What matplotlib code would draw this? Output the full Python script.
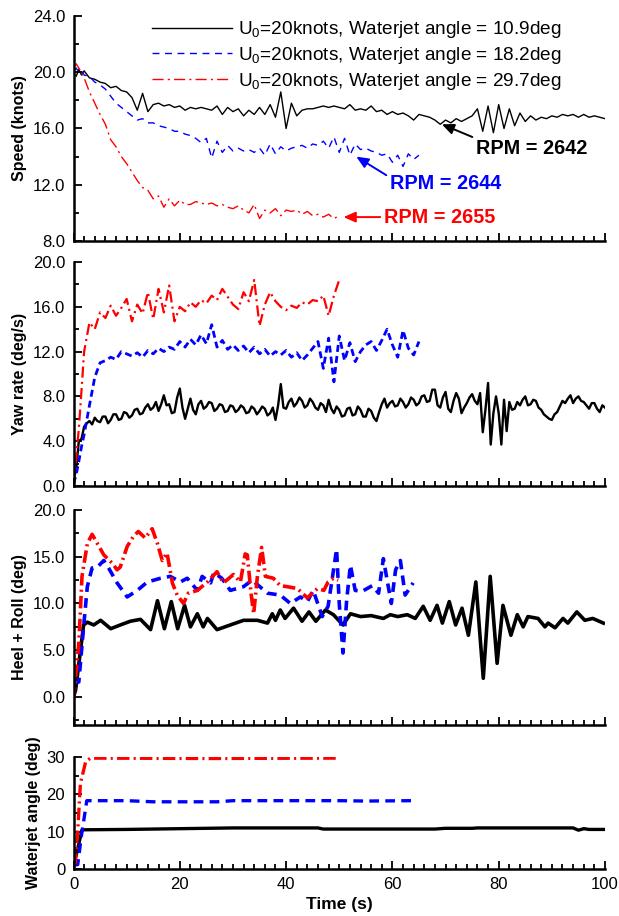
import matplotlib
matplotlib.use("Agg")
import matplotlib.pyplot as plt
from matplotlib.ticker import MultipleLocator, FormatStrFormatter

plt.rcParams['font.family'] = ['Liberation Sans', 'DejaVu Sans']
plt.rcParams['mathtext.fontset'] = 'custom'
plt.rcParams['mathtext.rm'] = 'Liberation Sans'
plt.rcParams['lines.scale_dashes'] = False

# ---- time grids (s) ----
t_black = [0, 0.5, 1, 1.5] + list(range(2, 101))
t_blue = [0, 0.5, 1, 1.5] + list(range(2, 66))
t_red = [0, 0.5, 1, 1.5] + list(range(2, 51))
t_yaw_black = [0, 0.5, 1, 1.5] + [2 + 0.5 * i for i in range(197)]

labels = ['U$_\\mathregular{0}$=20knots, Waterjet angle = 10.9deg',
          'U$_\\mathregular{0}$=20knots, Waterjet angle = 18.2deg',
          'U$_\\mathregular{0}$=20knots, Waterjet angle = 29.7deg']
rpm_text = ['RPM = 2642', 'RPM = 2644', 'RPM = 2655']

# ---- speed (knots) ----
speed_black = [20.0, 19.7, 20.2, 19.8,
               20.1, 19.6, 19.5, 19.3, 19.2, 18.9, 19.0, 18.7,
               18.6, 18.2, 17.3, 18.5, 17.2, 17.7, 17.8, 17.6, 17.7, 17.5,
               17.6, 17.3, 17.5, 17.4, 17.5, 17.4, 17.3, 17.6, 17.0, 17.5,
               17.2, 17.4, 16.9, 17.3, 17.0, 17.5, 17.0, 17.7, 16.8, 18.6,
               16.0, 17.8, 16.9, 17.3, 17.4, 17.4, 17.5, 17.6, 17.5, 17.6,
               17.5, 17.4, 17.7, 17.3, 17.4, 17.3, 17.6, 17.2, 17.3, 17.0,
               17.2, 17.0, 17.1, 16.9, 16.6, 17.0, 16.9, 16.8, 16.6, 16.3,
               16.6, 16.4, 16.7, 16.5, 16.7, 16.9, 17.4, 15.8, 17.6, 15.7,
               17.7, 16.0, 17.4, 16.2, 17.1, 16.5, 16.9, 16.6, 16.8, 16.7,
               16.9, 16.8, 17.0, 16.9, 17.0, 16.8, 17.0, 16.8, 16.9, 16.8,
               16.7]
speed_blue = [20.1, 20.3, 20.0, 20.1,
              19.8, 19.7, 19.3, 19.1, 18.8, 18.3, 17.8, 17.5,
              17.2, 16.9, 16.6, 16.7, 16.4, 16.4, 16.2, 16.1, 16.0, 15.8,
              15.8, 15.6, 15.5, 15.3, 15.0, 15.3, 13.9, 15.1, 14.3, 14.8,
              14.4, 14.6, 14.4, 14.5, 14.3, 14.6, 14.1, 14.9, 14.2, 14.7,
              14.4, 14.6, 14.7, 14.8, 14.6, 14.9, 14.8, 15.1, 14.6, 15.4,
              14.3, 15.3, 14.1, 14.9, 14.5, 14.6, 14.4, 14.3, 14.1, 14.2,
              13.6, 14.1, 13.3, 14.2, 13.8, 14.1]
speed_red = [20.4, 20.6, 20.3, 20.0,
             19.6, 18.6, 17.8, 17.0, 16.3, 15.2, 14.7, 14.0,
             13.5, 12.9, 12.3, 11.8, 11.6, 11.0, 11.2, 10.4, 11.0, 10.5,
             10.9, 10.6, 10.6, 10.8, 10.7, 10.6, 10.7, 10.5, 10.6, 10.4,
             10.3, 10.5, 10.2, 10.0, 10.6, 9.6, 10.2, 10.0, 10.3, 9.8,
             10.2, 10.1, 10.2, 9.9, 10.1, 9.8, 9.9, 9.7, 9.9, 9.6,
             9.8]

# ---- yaw rate (deg/s) ----
yaw_black = [0.5, 1.5, 4.0, 4.2,
             5.3, 5.6, 5.8, 5.5, 6.1, 5.8, 5.7, 6.2, 6.2, 5.6,
             5.9, 6.4, 6.4, 5.9, 6.0, 6.6, 6.5, 6.1, 6.3, 6.8,
             6.9, 6.4, 6.5, 7.0, 7.3, 6.8, 7.0, 7.5, 6.7, 7.3,
             8.1, 7.2, 7.3, 6.5, 6.6, 7.9, 8.7, 7.0, 6.0, 6.9,
             7.8, 6.8, 6.4, 7.3, 7.6, 6.9, 7.1, 7.5, 7.4, 6.7,
             6.9, 7.3, 7.2, 6.6, 6.7, 7.2, 7.1, 6.6, 6.8, 7.2,
             7.0, 6.5, 6.6, 7.1, 6.9, 6.4, 6.7, 7.1, 6.9, 6.3,
             6.5, 7.0, 5.9, 7.2, 9.1, 7.0, 6.9, 7.5, 7.8, 7.1,
             7.4, 7.9, 7.6, 7.0, 7.2, 7.8, 7.5, 7.0, 6.8, 7.4,
             7.2, 6.6, 7.7, 6.9, 6.5, 7.1, 6.8, 6.2, 6.3, 6.9,
             7.0, 6.3, 6.4, 7.1, 6.8, 6.2, 6.2, 6.9, 6.7, 6.1,
             5.8, 6.6, 7.3, 7.8, 7.0, 7.4, 7.6, 7.1, 7.2, 7.8,
             7.5, 7.0, 7.3, 7.9, 7.7, 7.2, 7.4, 8.0, 8.1, 7.5,
             7.6, 8.6, 8.6, 7.2, 7.0, 7.9, 8.4, 6.9, 6.6, 7.6,
             8.3, 7.8, 6.5, 7.0, 7.4, 7.9, 8.2, 7.6, 7.3, 8.3,
             4.8, 6.8, 9.2, 3.7, 6.5, 8.0, 6.5, 3.7, 7.7, 4.9,
             7.5, 6.8, 6.9, 7.5, 7.2, 7.7, 8.0, 7.2, 7.3, 7.7,
             7.6, 7.0, 6.8, 6.4, 6.2, 6.0, 5.9, 6.4, 6.6, 7.1,
             7.6, 7.4, 7.8, 8.1, 7.4, 7.8, 8.0, 7.6, 7.5, 7.2,
             6.9, 7.4, 7.4, 6.9, 6.6, 7.2, 7.0]
yaw_blue = [0.2, 1.0, 2.2, 3.5,
            4.6, 7.2, 9.7, 11.0, 11.2, 11.5, 11.3, 12.0,
            11.8, 11.6, 11.9, 11.5, 12.1, 11.8, 12.3, 12.0, 12.4, 12.2,
            12.9, 12.4, 13.1, 12.6, 13.5, 12.7, 14.4, 12.4, 13.0, 12.2,
            12.6, 12.1, 12.5, 11.9, 12.4, 11.8, 12.2, 11.6, 12.0, 11.7,
            12.1, 11.5, 11.9, 11.2, 11.7, 12.3, 12.9, 10.5, 13.2, 9.3,
            13.4, 11.2, 12.8, 11.1, 12.0, 12.6, 12.9, 12.1, 13.0, 14.0,
            12.6, 11.5, 13.9, 12.3, 11.7, 12.9]
yaw_red = [0.1, 2.5, 5.1, 8.5,
           12.0, 14.6, 14.0, 15.5, 15.0, 16.1, 15.2, 15.9,
           16.7, 14.7, 16.2, 15.4, 17.3, 14.9, 17.6, 15.5, 17.9, 14.7,
           16.0, 15.6, 16.4, 16.0, 16.6, 16.3, 17.0, 16.6, 17.6, 16.9,
           16.2, 15.8, 17.3, 16.5, 18.4, 14.3, 16.2, 17.3, 16.5, 16.0,
           15.7, 16.1, 15.9, 16.4, 16.2, 16.6, 16.5, 17.0, 15.2, 17.0,
           18.4]

# ---- heel + roll (deg) ----
heel_t_black = [0, 0.4, 1.9, 2.6, 3.8, 5.1, 7.0, 8.8, 10.7, 12.6, 14.5, 15.8,
                17.1, 18.4, 19.6, 20.9, 22.0, 23.3, 24.4, 25.2, 27.0, 29.5,
                32.0, 34.6, 36.5, 37.4, 38.0, 38.9, 39.8, 41.4, 43.0, 44.3,
                45.6, 47.4, 48.9, 50.7, 52.1, 54.0, 56.0, 58.3, 59.6, 61.0,
                62.8, 64.3, 65.8, 67.1, 68.4, 69.4, 70.7, 71.9, 73.1, 74.3,
                75.7, 77.1, 78.4, 79.7, 80.8, 82.3, 83.5, 84.6, 85.5, 87.4,
                88.7, 89.3, 90.6, 92.1, 93.0, 94.7, 96.2, 97.7, 99.7]
heel_black = [0.0, 0.75, 7.7, 8.0, 7.7, 8.2, 7.3, 7.7, 8.1, 8.3, 7.2, 10.3,
              7.3, 10.2, 7.3, 9.8, 7.5, 8.9, 7.5, 8.4, 7.2, 7.7,
              8.2, 8.2, 7.9, 8.9, 8.2, 9.3, 8.4, 9.5, 8.1, 9.1,
              8.1, 9.3, 8.8, 7.7, 8.9, 8.6, 8.7, 8.4, 8.8, 8.6,
              8.8, 8.4, 9.7, 8.2, 9.8, 7.9, 10.2, 7.7, 9.5, 6.6,
              12.3, 2.0, 12.9, 3.6, 9.8, 6.6, 8.8, 7.5, 8.6, 8.4,
              7.5, 7.9, 7.4, 8.4, 7.9, 9.1, 8.2, 8.4, 7.9]
heel_t_blue = [0, 1.0, 1.9, 2.6, 3.5, 4.5, 5.7, 6.6, 8.2, 10.1, 12.0, 13.9,
               16.4, 18.2, 20.1, 21.4, 23.3, 24.2, 25.8, 26.4, 27.9, 29.5,
               32.0, 33.6, 36.5, 38.9, 40.8, 42.7, 44.0, 45.1, 46.8, 47.9,
               49.5, 50.0, 50.7, 51.4, 52.1, 53.0, 54.3, 56.2, 57.4, 58.3,
               59.1, 59.8, 60.6, 61.5, 62.4, 63.9]
heel_blue = [1.5, 1.6, 7.5, 11.8, 13.8, 13.9, 14.6, 13.8, 12.2, 10.7, 11.4, 12.3,
             12.7, 12.9, 12.3, 12.7, 11.4, 12.9, 12.2, 13.3, 12.7, 11.4,
             11.8, 12.5, 11.1, 10.9, 10.0, 10.7, 10.2, 11.4, 8.6, 9.7,
             15.8, 10.0, 4.7, 10.4, 14.1, 11.4, 11.3, 11.9, 11.1, 14.8,
             12.2, 10.0, 13.6, 14.6, 10.9, 12.2]
heel_t_red = [0, 1.0, 1.6, 2.6, 3.5, 4.5, 5.7, 7.3, 8.2, 8.8, 10.1, 11.3,
              12.2, 13.5, 14.8, 15.8, 16.7, 17.6, 18.6, 19.5, 20.7, 21.6,
              23.3, 25.2, 27.0, 28.2, 30.1, 31.4, 32.3, 32.7, 33.4, 33.9,
              34.6, 35.4, 36.1, 37.6, 38.9, 40.2, 42.1, 44.0, 45.9, 47.1,
              47.9, 48.9, 49.8]
heel_red = [-0.3, 5.7, 12.9, 16.4, 17.4, 16.4, 15.2, 14.3, 13.6, 13.9, 16.1, 17.2,
            17.7, 17.0, 18.0, 16.4, 14.6, 15.4, 12.2, 10.9, 10.0, 11.1,
            11.4, 12.3, 13.4, 12.2, 13.1, 12.3, 15.3, 15.2, 11.1, 8.9,
            12.9, 16.0, 12.9, 12.7, 11.9, 11.8, 11.6, 10.6, 11.6, 11.4,
            12.3, 12.7, 12.5]

# ---- waterjet angle (deg) ----
jet_t_black = [0, 0.4, 1.6, 10, 20, 30, 40, 46, 47, 60, 68, 70, 75, 76, 94, 95, 96, 97, 100]
jet_black = [0.5, 3.0, 10.5, 10.6, 10.8, 11.0, 11.0, 11.0, 10.7, 10.7, 10.7, 10.9,
             10.9, 11.0, 11.0, 10.4, 10.8, 10.6, 10.6]
jet_t_blue = [0, 0.8, 1.5, 2.5, 10, 15, 27, 30, 50, 55, 63.5]
jet_blue = [1.0, 1.2, 9.0, 18.3, 18.3, 18.0, 18.0, 18.3, 18.3, 18.2, 18.3]
jet_t_red = [0, 0.3, 0.8, 1.3, 2.3, 3.2, 25, 50]
jet_red = [1.0, 1.5, 10.3, 22.9, 28.8, 29.7, 29.6, 29.7]

BLUE = '#0000FF'
RED = '#FF0000'

fig = plt.figure(figsize=(6.19, 9.16), dpi=100)
L, W = 73.5 / 619, 531.5 / 619
tops = [16, 262, 510, 757]
bots = [241, 486, 725, 869]
axes = []
for top, bot in zip(tops, bots):
    ax = fig.add_axes([L, 1 - bot / 916, W, (bot - top) / 916])
    axes.append(ax)

ax1, ax2, ax3, ax4 = axes

# speed
l1, = ax1.plot(t_black, speed_black, color='black', lw=1.0)
l2, = ax1.plot(t_blue, speed_blue, color=BLUE, lw=1.0, ls=(0, (5, 4)))
l3, = ax1.plot(t_red, speed_red, color=RED, lw=1.0, ls=(0, (8, 3, 1.5, 3)))
ax1.set_ylim(8, 24)
ax1.yaxis.set_major_locator(MultipleLocator(4))
ax1.yaxis.set_minor_locator(MultipleLocator(2))
ax1.set_ylabel('Speed (knots)')
ax1.legend([l1, l2, l3], labels, loc='upper left', bbox_to_anchor=(0.148, 0.985),
           frameon=False, fontsize=13.7, handlelength=4.2, handletextpad=0.3,
           labelspacing=0.25, borderpad=0, borderaxespad=0)

# RPM arrows
ax1.annotate(rpm_text[0], xy=(69.3, 16.3), xytext=(75.8, 14.6), color='black',
             fontsize=14.3, fontweight='bold', ha='left', va='center',
             arrowprops=dict(arrowstyle='-|>,head_length=0.5,head_width=0.22', color='black',
                             lw=1.4, relpos=(0, 1), shrinkA=1, shrinkB=0))
ax1.annotate(rpm_text[1], xy=(53.2, 14.0), xytext=(59.6, 12.1), color=BLUE,
             fontsize=14.3, fontweight='bold', ha='left', va='center',
             arrowprops=dict(arrowstyle='-|>,head_length=0.5,head_width=0.22', color=BLUE,
                             lw=1.4, relpos=(0, 0.8), shrinkA=1, shrinkB=0))
ax1.annotate(rpm_text[2], xy=(50.8, 9.7), xytext=(58.5, 9.7), color=RED,
             fontsize=14.3, fontweight='bold', ha='left', va='center',
             arrowprops=dict(arrowstyle='-|>,head_length=0.5,head_width=0.22', color=RED,
                             lw=1.4, relpos=(0, 0.5), shrinkA=1, shrinkB=0))

# yaw rate
ax2.plot(t_yaw_black, yaw_black, color='black', lw=1.7)
ax2.plot(t_blue, yaw_blue, color=BLUE, lw=2.0, ls=(0, (5, 3)))
ax2.plot(t_red, yaw_red, color=RED, lw=1.6, ls=(0, (8, 3, 1.5, 3)))
ax2.set_ylim(0, 20)
ax2.yaxis.set_major_locator(MultipleLocator(4))
ax2.yaxis.set_minor_locator(MultipleLocator(2))
ax2.set_ylabel('Yaw rate (deg/s)')

# heel + roll
ax3.plot(heel_t_black, heel_black, color='black', lw=2.6, solid_joinstyle='round')
ax3.plot(heel_t_blue, heel_blue, color=BLUE, lw=2.6, ls=(0, (7, 4.5)))
ax3.plot(heel_t_red, heel_red, color=RED, lw=2.6, ls=(0, (9, 3, 1.5, 3)))
ax3.set_ylim(-3, 20)
ax3.yaxis.set_major_locator(MultipleLocator(5))
ax3.yaxis.set_minor_locator(MultipleLocator(2.5))
ax3.set_ylabel('Heel + Roll (deg)')

# waterjet angle
ax4.plot(jet_t_black, jet_black, color='black', lw=2.4)
ax4.plot(jet_t_blue, jet_blue, color=BLUE, lw=2.4, ls=(0, (7, 4.5)))
ax4.plot(jet_t_red, jet_red, color=RED, lw=2.4, ls=(0, (9, 3, 1.5, 3)))
ax4.set_ylim(0, 30)
ax4.yaxis.set_major_locator(MultipleLocator(10))
ax4.yaxis.set_minor_locator(MultipleLocator(5))
ax4.set_ylabel('Waterjet angle (deg)')
ax4.set_xlabel('Time (s)', fontsize=12.5, fontweight='bold', labelpad=3)

fmts = ['%.1f', '%.1f', '%.1f', '%d']
for ax, f in zip(axes, fmts):
    ax.set_xlim(0, 100)
    ax.xaxis.set_major_locator(MultipleLocator(20))
    ax.xaxis.set_minor_locator(MultipleLocator(2))
    ax.yaxis.set_major_formatter(FormatStrFormatter(f))
    for s in ['top', 'right']:
        ax.spines[s].set_visible(False)
    for s in ['left', 'bottom']:
        ax.spines[s].set_linewidth(1.8)
    ax.tick_params(which='both', direction='in', top=False, right=False, labelsize=12, width=1.3)
    ax.tick_params(which='major', length=6, pad=6)
    ax.tick_params(which='minor', length=3.5)
    ax.yaxis.label.set_fontsize(11.5)
    ax.yaxis.label.set_fontweight('bold')
    if ax is not ax4:
        ax.tick_params(labelbottom=False)

fig.savefig('out.png', dpi=100)
